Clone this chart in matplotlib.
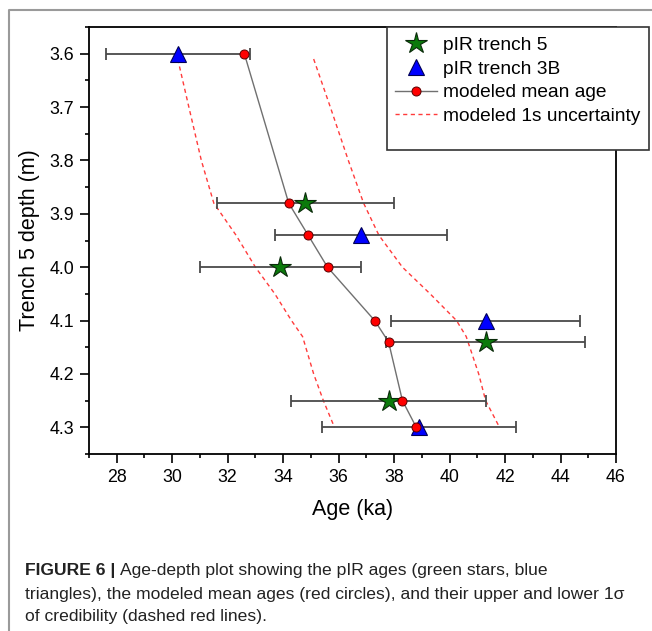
import numpy as np
import matplotlib.pyplot as plt
from matplotlib.lines import Line2D
from matplotlib.patches import Rectangle
from matplotlib.ticker import MultipleLocator, FormatStrFormatter

plt.rcParams['font.family'] = ['Liberation Sans', 'DejaVu Sans']

# pIR ages, trench 5
t5_depth = [3.88, 4.00, 4.14, 4.25]
t5_age = [34.8, 33.9, 41.3, 37.8]
t5_err = [3.2, 2.9, 3.6, 3.5]

# pIR ages, trench 3B
t3b_depth = [3.60, 3.94, 4.10, 4.30]
t3b_age = [30.2, 36.8, 41.3, 38.9]
t3b_err = [2.6, 3.1, 3.4, 3.5]

# modeled mean age
model_depth = [3.60, 3.88, 3.94, 4.00, 4.10, 4.14, 4.25, 4.30]
model_age = [32.6, 34.2, 34.9, 35.6, 37.3, 37.8, 38.3, 38.8]

# modeled 1s envelope
env_depth = [3.61, 3.70, 3.80, 3.88, 3.94, 4.00, 4.05, 4.10, 4.13, 4.20, 4.25, 4.30]
env_low = [30.2, 30.6, 31.05, 31.5, 32.3, 33.0, 33.7, 34.3, 34.7, 35.1, 35.45, 35.85]
env_high = [35.1, 35.7, 36.35, 36.9, 37.45, 38.3, 39.3, 40.25, 40.6, 41.05, 41.3, 41.8]

fig = plt.figure(figsize=(6.52, 6.31), dpi=100)
ax = fig.add_axes([89 / 652, 1 - 454 / 631, 527 / 652, 427 / 631])

red_dash = dict(color='#ff3b3b', lw=1.0, dashes=(3, 2.5))
ax.plot(env_low, env_depth, zorder=1, **red_dash)
ax.plot(env_high, env_depth, zorder=1, **red_dash)
ax.plot(model_age, model_depth, color='#707070', lw=1.0, zorder=1.5)

eb = dict(fmt='none', ecolor='#4a4a4a', elinewidth=1.3, capsize=4, capthick=1.3, zorder=2)
ax.errorbar(t5_age, t5_depth, xerr=t5_err, **eb)
ax.errorbar(t3b_age, t3b_depth, xerr=t3b_err, **eb)

star = dict(marker='*', ms=16, mfc='#0b7a0b', mec='#0a2a0a', mew=0.8, ls='none')
tri = dict(marker='^', ms=12, mfc='#0000ff', mec='#000055', mew=0.8, ls='none')
dot = dict(marker='o', ms=6.5, mfc='#ff0000', mec='#5a0000', mew=0.7)
ax.plot(t5_age, t5_depth, zorder=3, **star)
ax.plot(t3b_age, t3b_depth, zorder=3.2, **tri)
ax.plot(model_age, model_depth, ls='none', zorder=3.5, **dot)

ax.set_xlim(27, 46)
ax.set_ylim(4.35, 3.55)
ax.xaxis.set_major_locator(MultipleLocator(2))
ax.xaxis.set_minor_locator(MultipleLocator(1))
ax.yaxis.set_major_locator(MultipleLocator(0.1))
ax.yaxis.set_minor_locator(MultipleLocator(0.05))
ax.yaxis.set_major_formatter(FormatStrFormatter('%.1f'))
ax.tick_params(which='both', direction='out', top=False, right=False, width=1.2,
               labelsize=12.8, colors='black')
ax.tick_params(which='major', length=6.5, pad=4)
ax.tick_params(which='minor', length=3)
for s in ax.spines.values():
    s.set_linewidth(1.3)

ax.set_xlabel('Age (ka)', fontsize=15.5)
ax.set_ylabel('Trench 5 depth (m)', fontsize=15.5)
ax.xaxis.set_label_coords(0.5, -0.105)
ax.yaxis.set_label_coords(-0.093, 0.5)

# legend box hanging off the upper right corner
box = Rectangle((387 / 652, 1 - 150 / 631), 262 / 652, 123 / 631,
                transform=fig.transFigure, facecolor='white', edgecolor='#333333',
                lw=1.2, clip_on=False, zorder=4)
ax.add_patch(box)
handles = [
    Line2D([], [], **star),
    Line2D([], [], **tri),
    Line2D([], [], color='#707070', lw=1.0, **dot),
    Line2D([], [], **red_dash),
]
labels = ['pIR trench 5', 'pIR trench 3B', 'modeled mean age', 'modeled 1s uncertainty']
leg = ax.legend(handles, labels, loc='upper left', bbox_to_anchor=(395 / 652, 1 - 36.5 / 631),
                bbox_transform=fig.transFigure, frameon=False, fontsize=13.8,
                borderpad=0, borderaxespad=0, handlelength=2.2, handletextpad=0.3,
                labelspacing=0.33)
leg.set_zorder(5)

# outer frame
fig.add_artist(Line2D([9 / 652, 9 / 652, 1], [0, 1 - 10 / 631, 1 - 10 / 631],
                      color='#9a9a9a', lw=1.5, transform=fig.transFigure))

# caption
cap_color = '#222222'
cap_size = 12.6
x0 = 25 / 652
fig.canvas.draw()
head = fig.text(x0, 1 - 570 / 631, 'FIGURE 6 |', fontsize=cap_size, weight='bold',
                color=cap_color, va='center')
bb = head.get_window_extent(fig.canvas.get_renderer())
fig.text((bb.x1 + 5) / fig.bbox.width, 1 - 570 / 631,
         'Age-depth plot showing the pIR ages (green stars, blue',
         fontsize=cap_size, color=cap_color, va='center')
fig.text(x0, 1 - 594 / 631,
         'triangles), the modeled mean ages (red circles), and their upper and lower 1\u03c3',
         fontsize=cap_size, color=cap_color, va='center')
fig.text(x0, 1 - 617 / 631, 'of credibility (dashed red lines).',
         fontsize=cap_size, color=cap_color, va='center')

fig.savefig('out.png', dpi=100)
